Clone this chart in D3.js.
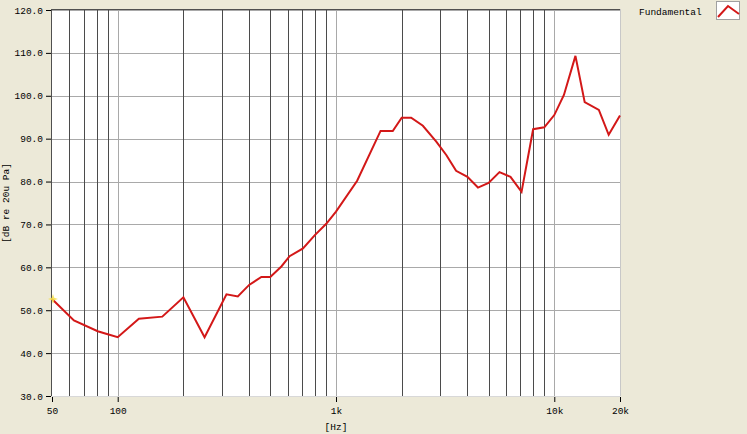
<!DOCTYPE html>
<html><head><meta charset="utf-8">
<script src="https://cdn.jsdelivr.net/npm/d3@7"></script>
<style>
html,body{margin:0;padding:0;background:#ECE9D8;}
svg{display:block;}
text{font-family:"Liberation Mono","DejaVu Sans Mono",monospace;font-size:9.5px;fill:#000;}
</style></head>
<body>
<script>
const freqs = [50, 63, 81, 90, 100, 125, 160, 200, 250, 315, 355, 400, 455, 500, 562, 613, 706, 800, 900, 1000, 1250, 1600, 1820, 2000, 2210, 2500, 2880, 3200, 3550, 4000, 4470, 5000, 5610, 6300, 7080, 8000, 9000, 10000, 11070, 12500, 13780, 16000, 17750, 20000];
const values = [52.6, 47.6, 45.1, 44.4, 43.7, 48.0, 48.5, 53.0, 43.7, 53.7, 53.2, 55.9, 57.75, 57.75, 60.2, 62.6, 64.4, 67.5, 70.1, 73.0, 80.2, 91.8, 91.8, 94.9, 94.9, 93.0, 89.3, 86.2, 82.5, 81.1, 78.6, 79.7, 82.2, 81.1, 77.6, 92.2, 92.65, 95.5, 100.2, 109.3, 98.5, 96.7, 90.9, 95.4];
const xTickValues = [50, 100, 1000, 10000, 20000];
const xTickLabels = ["50", "100", "1k", "10k", "20k"];
const majorGrid = [100, 1000, 10000];
const minorGrid = [60,70,80,90,200,300,400,500,600,700,800,900,2000,3000,4000,5000,6000,7000,8000,9000];
const yTickValues = [30,40,50,60,70,80,90,100,110,120];
const seriesName = "Fundamental";
const xTitle = "[Hz]";
const yTitle = "[dB re 20u Pa]";

const W = 747, H = 434;
const L = 52, R = 620, T = 10, B = 396;
const svg = d3.select("body").append("svg").attr("width", W).attr("height", H);

const x = d3.scaleLog().domain([50, 20000]).range([L, R]);
const y = d3.scaleLinear().domain([30, 120]).range([B, T]);

svg.append("rect").attr("x", L).attr("y", T).attr("width", R - L).attr("height", B - T).attr("fill", "#fff");

const g = svg.append("g");
// horizontal grid
g.selectAll(".hg").data(yTickValues).enter().append("line")
  .attr("x1", L).attr("x2", R)
  .attr("y1", d => Math.round(y(d)) + 0.5).attr("y2", d => Math.round(y(d)) + 0.5)
  .attr("stroke", "#a9a9a9").attr("stroke-width", 1);
// minor vertical grid (dark)
g.selectAll(".mg").data(minorGrid).enter().append("line")
  .attr("x1", d => Math.round(x(d)) + 0.5).attr("x2", d => Math.round(x(d)) + 0.5)
  .attr("y1", T).attr("y2", B)
  .attr("stroke", "#4b4b4b").attr("stroke-width", 1);
// major vertical grid (light)
g.selectAll(".Mg").data(majorGrid).enter().append("line")
  .attr("x1", d => Math.round(x(d)) + 0.5).attr("x2", d => Math.round(x(d)) + 0.5)
  .attr("y1", T).attr("y2", B)
  .attr("stroke", "#a9a9a9").attr("stroke-width", 1);

// frame
svg.append("line").attr("x1", L).attr("x2", R).attr("y1", T - 0.5).attr("y2", T - 0.5).attr("stroke", "#505050");
svg.append("line").attr("x1", L - 0.5).attr("x2", L - 0.5).attr("y1", T - 1).attr("y2", B).attr("stroke", "#505050");
svg.append("line").attr("x1", R + 0.5).attr("x2", R + 0.5).attr("y1", T - 1).attr("y2", B).attr("stroke", "#c8c8c8");
svg.append("line").attr("x1", L).attr("x2", R).attr("y1", B + 0.5).attr("y2", B + 0.5).attr("stroke", "#d8d8d8");

// y axis
const yAxis = d3.axisLeft(y).tickValues(yTickValues).tickFormat(d => d3.format(".1f")(d)).tickSize(5).tickPadding(3);
const ya = svg.append("g").attr("transform", `translate(${L - 1},0)`).call(yAxis);
ya.select(".domain").remove();
ya.selectAll("line").attr("stroke", "#000");
ya.selectAll("text").attr("font-family", '"Liberation Mono","DejaVu Sans Mono",monospace').attr("font-size", "9.5px").attr("fill", "#000");

// x axis
const xAxis = d3.axisBottom(x).tickValues(xTickValues).tickFormat((d, i) => xTickLabels[i]).tickSize(5).tickPadding(5);
const xa = svg.append("g").attr("transform", `translate(0,${B + 1})`).call(xAxis);
xa.select(".domain").remove();
xa.selectAll("line").attr("stroke", "#000");
xa.selectAll("text").attr("font-family", '"Liberation Mono","DejaVu Sans Mono",monospace').attr("font-size", "9.5px").attr("fill", "#000");

// axis titles
svg.append("text").attr("x", x(1000)).attr("y", 430).attr("text-anchor", "middle").text(xTitle);
svg.append("text").attr("transform", `translate(9,${(T + B) / 2}) rotate(-90)`).attr("text-anchor", "middle").text(yTitle);

// line
const pts = freqs.map((f, i) => [f, values[i]]);
svg.append("path").datum(pts)
  .attr("d", d3.line().x(d => x(d[0])).y(d => y(d[1])))
  .attr("fill", "none").attr("stroke", "#d31818").attr("stroke-width", 2).attr("stroke-linejoin", "miter");

// cursor marker at start
const sx = x(freqs[0]) + 1, sy = y(values[0]);
svg.append("path")
  .attr("d", `M${sx},${sy - 5} L${sx + 1.2},${sy - 1.2} L${sx + 5},${sy} L${sx + 1.2},${sy + 1.2} L${sx},${sy + 5} L${sx - 1.2},${sy + 1.2} L${sx - 5},${sy} L${sx - 1.2},${sy - 1.2} Z`)
  .attr("fill", "#f5e04a").attr("opacity", 0.85);

// legend
svg.append("text").attr("x", 639).attr("y", 15).text(seriesName);
svg.append("rect").attr("x", 716.5).attr("y", 1.5).attr("width", 23).attr("height", 18).attr("fill", "#fff").attr("stroke", "#a0a0a0");
svg.append("path").attr("d", "M718,17 L728,6 L739,14").attr("fill", "none").attr("stroke", "#d31818").attr("stroke-width", 2);
</script>
</body></html>
